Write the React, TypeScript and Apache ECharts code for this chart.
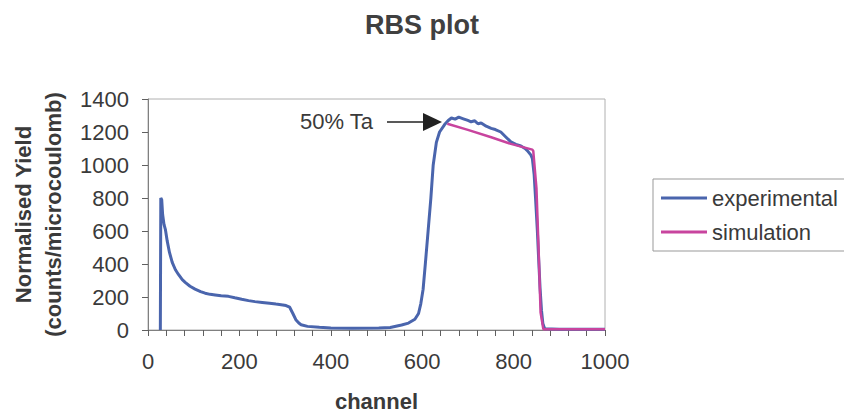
import React, { useEffect, useRef } from "react";
import * as echarts from "echarts";

const expChannel = [
  27, 28, 30, 32, 35, 38, 42, 47, 53, 60, 67, 75, 82, 92, 103, 115, 125, 136, 147, 160,
  176, 190, 205, 220, 234, 250, 266, 280, 295, 302, 310, 317, 324, 330, 335, 349, 375, 400,
  447, 505, 530, 555, 570, 584, 592, 597, 602, 607, 613, 619, 624, 631, 638, 649, 657, 664,
  672, 680, 690, 700, 707, 715, 722, 729, 740, 751, 760, 772, 783, 794, 805, 816, 825, 830,
  838, 841, 845, 848, 852, 855, 858, 861, 864, 868, 900, 1000,
];
const expYield = [
  0, 800, 790, 700, 640, 610, 540, 470, 410, 365, 335, 305, 287, 265, 248, 233, 223, 216, 212, 207,
  204, 195, 186, 178, 172, 167, 162, 157, 152, 148, 138, 100, 60, 42, 32, 22, 16, 12,
  10, 12, 15, 30, 42, 65, 100, 160, 247, 405, 603, 801, 998, 1137, 1200, 1245, 1270, 1285,
  1278, 1290, 1280, 1270, 1262, 1268, 1250, 1255, 1235, 1222, 1215, 1200, 1170, 1140, 1125, 1115, 1100, 1087,
  1060, 1040, 940, 800, 600, 420, 250, 120, 40, 8, 5, 5,
];

const simChannel = [655, 700, 751, 794, 841, 843, 850, 855, 859, 865, 1000];
const simYield = [1250, 1213, 1168, 1128, 1093, 1085, 860, 464, 108, 5, 5];

const xTicks = { min: 0, max: 1000, interval: 200 };
const yTicks = { min: 0, max: 1400, interval: 200 };

const FONT = "'Liberation Sans', Arial, sans-serif";
const TEXT = "#3a3a3a";

export default function App() {
  const ref = useRef<HTMLDivElement>(null);
  useEffect(() => {
    if (!ref.current) return;
    const chart = echarts.init(ref.current, undefined, { renderer: "svg" });
    const expData = expChannel.map((c, i) => [c, expYield[i]]);
    const simData = simChannel.map((c, i) => [c, simYield[i]]);
    chart.setOption({
      animation: false,
      backgroundColor: "#ffffff",
      textStyle: { fontFamily: FONT },
      title: {
        text: "RBS plot",
        left: "center",
        top: 6,
        textStyle: { fontFamily: FONT, fontSize: 27, fontWeight: "bold", color: "#404040" },
      },
      grid: {
        left: 144,
        right: 239,
        top: 99,
        bottom: 82,
        show: true,
        borderColor: "#b0b0b0",
        borderWidth: 1,
        backgroundColor: "transparent",
      },
      legend: {
        orient: "vertical",
        left: 653,
        top: 179,
        padding: [8, 8, 8, 8],
        itemWidth: 46,
        itemHeight: 3,
        itemGap: 12,
        icon: "rect",
        borderColor: "#999",
        borderWidth: 1,
        textStyle: { fontFamily: FONT, fontSize: 22, color: TEXT, padding: [0, 0, 0, 0] },
        data: ["experimental", "simulation"],
      },
      xAxis: {
        type: "value",
        min: xTicks.min,
        max: xTicks.max,
        interval: xTicks.interval,
        name: "channel",
        nameLocation: "middle",
        nameGap: 60,
        nameTextStyle: { fontFamily: FONT, fontSize: 22, fontWeight: "bold", color: TEXT },
        axisLine: { show: true, lineStyle: { color: "#808080", width: 1 } },
        axisTick: { show: true, length: 6, lineStyle: { color: "#606060" } },
        minorTick: { show: true, splitNumber: 5, length: 6, lineStyle: { color: "#606060" } },
        axisLabel: {
          margin: 20,
          fontFamily: FONT,
          fontSize: 22,
          color: TEXT,
          formatter: (v: number) => String(v),
        },
        splitLine: { show: false },
      },
      yAxis: {
        type: "value",
        min: yTicks.min,
        max: yTicks.max,
        interval: yTicks.interval,
        name: "Normalised Yield\n(counts/microcoulomb)",
        nameLocation: "middle",
        nameRotate: 90,
        nameGap: 80,
        nameTextStyle: {
          fontFamily: FONT,
          fontSize: 22,
          fontWeight: "bold",
          color: TEXT,
          lineHeight: 30,
        },
        axisLine: { show: true, lineStyle: { color: "#808080", width: 1 } },
        axisTick: { show: true, length: 6, lineStyle: { color: "#606060" } },
        axisLabel: {
          margin: 19,
          fontFamily: FONT,
          fontSize: 22,
          color: TEXT,
          formatter: (v: number) => String(v),
        },
        splitLine: { show: false },
      },
      series: [
        {
          name: "experimental",
          type: "line",
          data: expData,
          symbol: "none",
          lineStyle: { color: "#4a65ad", width: 3 },
          itemStyle: { color: "#4a65ad" },
          z: 2,
        },
        {
          name: "simulation",
          type: "line",
          data: simData,
          symbol: "none",
          lineStyle: { color: "#c8449e", width: 2.5 },
          itemStyle: { color: "#c8449e" },
          z: 3,
        },
      ],
      graphic: [
        {
          type: "text",
          left: 300,
          top: 110,
          style: { text: "50% Ta", font: `22px ${FONT}`, fill: TEXT },
        },
        {
          type: "line",
          shape: { x1: 387, y1: 122, x2: 425, y2: 122 },
          style: { stroke: "#222", lineWidth: 1.5 },
        },
        {
          type: "polygon",
          shape: { points: [[423, 113], [442, 122], [423, 131]] },
          style: { fill: "#222" },
        },
      ],
    });
    return () => chart.dispose();
  }, []);
  return (
    <div
      ref={ref}
      style={{ position: "fixed", left: 0, top: 0, width: 844, height: 417 }}
    />
  );
}
